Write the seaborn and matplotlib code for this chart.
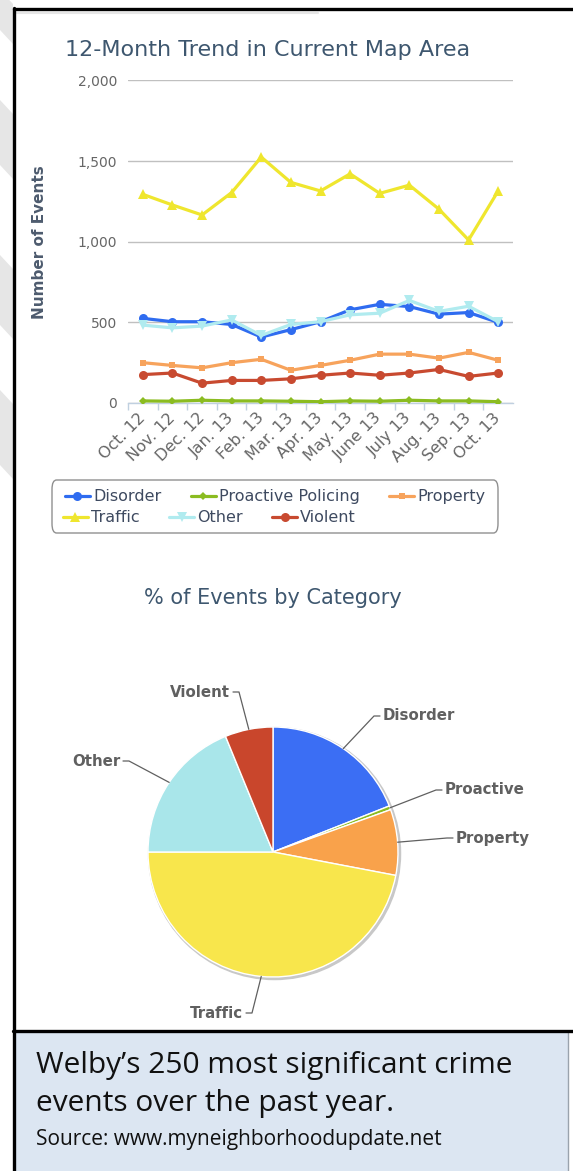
import numpy as np
import pandas as pd
import matplotlib
matplotlib.use("Agg")
import matplotlib.pyplot as plt
import seaborn as sns
from matplotlib.patches import FancyBboxPatch, Rectangle, Polygon, Circle
from matplotlib.lines import Line2D

# ---------------- data ----------------
months = ["Oct. 12", "Nov. 12", "Dec. 12", "Jan. 13", "Feb. 13", "Mar. 13", "Apr. 13",
          "May. 13", "June 13", "July 13", "Aug. 13", "Sep. 13", "Oct. 13"]
series_names = ["Disorder", "Proactive Policing", "Property", "Traffic", "Other", "Violent"]
disorder = [525, 504, 504, 487, 409, 455, 504, 578, 612, 598, 551, 561, 500]
proactive = [13, 11, 17, 13, 13, 11, 8, 13, 11, 17, 13, 13, 8]
property_ = [250, 233, 218, 250, 271, 203, 233, 265, 303, 303, 278, 314, 265]
traffic = [1294, 1228, 1166, 1305, 1525, 1368, 1315, 1421, 1300, 1351, 1202, 1011, 1315]
other = [483, 466, 477, 515, 419, 487, 504, 547, 557, 636, 568, 600, 504]
violent = [176, 186, 123, 140, 140, 150, 172, 186, 172, 186, 208, 165, 186]
y_ticks = [0, 500, 1000, 1500, 2000]
y_tick_labels = ["0", "500", "1,000", "1,500", "2,000"]

pie_labels = ["Disorder", "Proactive", "Property", "Traffic", "Other", "Violent"]
pie_share = [19.0, 0.5, 8.5, 47.0, 18.8, 6.2]

# ---------------- style ----------------
sns.set_style("white")
plt.rcParams["font.family"] = ["DejaVu Sans"]

line_colors = ["#2f6cf0", "#8bbc21", "#f7a35c", "#efe62e", "#b0ebef", "#c84a30"]
markers = ["o", "D", "s", "^", "v", "o"]
marker_sizes = [6.5, 4.5, 5, 6.5, 6.5, 6.5]
pie_colors = ["#3b6ef4", "#8bbc21", "#f9a24b", "#f8e64c", "#a9e6ea", "#c9462c"]

W, H = 573, 1171
fig = plt.figure(figsize=(W / 100, H / 100), dpi=100)
fig.patch.set_facecolor("white")

def fx(x):
    return x / W

def fy(y):
    return 1 - y / H

# --- background decorations (frame, caption box, faint watermark) ---
for (y0, y1) in [(-10, 30), (100, 165), (255, 325), (390, 465)]:
    fig.patches.append(Polygon([(fx(0), fy(y0)), (fx(13), fy(y0 + 14)), (fx(13), fy(y1 + 14)), (fx(0), fy(y1))],
                               closed=True, transform=fig.transFigure, facecolor="#e6e6e6",
                               edgecolor="none", zorder=0))
fig.add_artist(Line2D([fx(15), fx(318)], [fy(13), fy(13)], color="#e6e6e6", lw=1.5,
                      transform=fig.transFigure, zorder=1))
# caption box
fig.patches.append(Rectangle((fx(15), fy(1171)), fx(568) - fx(15), fy(1032) - fy(1171),
                             transform=fig.transFigure, facecolor="#dce6f2", edgecolor="none", zorder=0))
fig.add_artist(Line2D([fx(568), fx(568)], [fy(1032), fy(1171)], color="#9aa3ad", lw=1,
                      transform=fig.transFigure, zorder=2))
# black frame lines
fig.add_artist(Line2D([fx(13.5), fx(573)], [fy(8.5), fy(8.5)], color="black", lw=2.4,
                      transform=fig.transFigure, zorder=3))
fig.add_artist(Line2D([fx(14), fx(14)], [fy(8), fy(1171)], color="black", lw=2.4,
                      transform=fig.transFigure, zorder=3))
fig.add_artist(Line2D([fx(13), fx(573)], [fy(1031), fy(1031)], color="black", lw=2.4,
                      transform=fig.transFigure, zorder=3))

# ---------------- line chart ----------------
ax1 = fig.add_axes([fx(128), fy(403), (513 - 128) / W, (403 - 80.5) / H])
ax1.set_facecolor("none")
x = np.arange(len(months))
df = pd.DataFrame({"month": x, "Disorder": disorder, "Proactive Policing": proactive,
                   "Property": property_, "Traffic": traffic, "Other": other, "Violent": violent})
handles = {}
for name, col, mk, ms in zip(series_names, line_colors, markers, marker_sizes):
    sns.lineplot(data=df, x="month", y=name, ax=ax1, color=col, marker=mk, markersize=ms,
                 markeredgewidth=0, linewidth=2.3, legend=False, zorder=3)
    handles[name] = ax1.get_lines()[-1]

ax1.set_xlim(-0.5, len(months) - 0.5)
ax1.set_ylim(0, 2000)
ax1.set_yticks(y_ticks)
ax1.set_yticklabels(y_tick_labels)
ax1.set_xticks(x)
ax1.set_xticklabels(months, rotation=45, ha="right", va="center", rotation_mode="anchor")
ax1.set_xticks(np.arange(len(months)) - 0.5, minor=True)
ax1.tick_params(axis="x", which="major", length=0, pad=9, labelsize=11.5, labelcolor="#666666")
ax1.tick_params(axis="x", which="minor", length=5, width=1, color="#c0d0e0", direction="out", bottom=True)
ax1.tick_params(axis="y", length=0, pad=8, labelsize=10, labelcolor="#666666")
ax1.set_xlabel("")
ax1.set_ylabel("Number of Events", fontsize=11, fontweight="bold", color="#4d5b6e")
ax1.yaxis.set_label_coords(-0.21, 0.5)
for s in ["top", "right", "left"]:
    ax1.spines[s].set_visible(False)
ax1.spines["bottom"].set_color("#c0d0e0")
ax1.spines["bottom"].set_linewidth(1)
ax1.grid(axis="y", color="#c0c0c0", lw=1)
ax1.grid(axis="x", visible=False)
ax1.set_axisbelow(True)

fig.text(fx(65), fy(50), "12-Month Trend in Current Map Area", fontsize=16, color="#3e576f",
         ha="left", va="center")

# legend (two rows, Highcharts style)
fig.patches.append(FancyBboxPatch((fx(52), fy(533)), fx(498) - fx(52), fy(480) - fy(533),
                                  boxstyle="round,pad=0,rounding_size=0.008",
                                  transform=fig.transFigure, facecolor="white",
                                  edgecolor="#909090", lw=1, zorder=1))
row1 = ["Disorder", "Proactive Policing", "Property"]
row2 = ["Traffic", "Other", "Violent"]
for names, (lx, ly) in [(row1, (65, 497)), (row2, (63, 518))]:
    lg = fig.legend([handles[n] for n in names], names, loc="center left",
                    bbox_to_anchor=(fx(lx), fy(ly)), ncol=3, frameon=False, fontsize=11.5,
                    handlelength=1.55, handletextpad=0.2, columnspacing=1.85, borderpad=0,
                    borderaxespad=0, numpoints=1, labelcolor="#3e4a60")
    lg.set_zorder(5)

# ---------------- pie chart ----------------
cx, cy, R = 273, 852, 125
half = 135
ax2 = fig.add_axes([fx(cx - half), fy(cy + half), 2 * half / W, 2 * half / H])
ax2.axis("off")
ax2.add_patch(Circle((0.012, -0.012), 1.0, facecolor="none", edgecolor="#c8c8c8", lw=2.5, zorder=0))
wedges, _ = ax2.pie(pie_share, colors=pie_colors, startangle=90, counterclock=False, radius=1.0,
                    wedgeprops=dict(edgecolor="white", linewidth=1))
ax2.set_xlim(-half / R, half / R)
ax2.set_ylim(-half / R, half / R)

fig.text(fx(273), fy(598), "% of Events by Category", fontsize=15, color="#3e576f",
         ha="center", va="center")

# label anchor positions (pixels) for data labels
label_pos = {"Disorder": (383, 716, 1), "Proactive": (445, 790, 1), "Property": (456, 838, 1),
             "Traffic": (243, 1013, -1), "Other": (120, 761, -1), "Violent": (230, 692, -1)}

def to_data(px, py):
    return (px - cx) / R, (cy - py) / R

for w, name in zip(wedges, pie_labels):
    mid = np.deg2rad((w.theta1 + w.theta2) / 2)
    ex, ey = np.cos(mid), np.sin(mid)
    lx, ly, side = label_pos[name]
    kx, ky = to_data(lx - side * 9, ly)
    ox, oy = to_data(lx - side * 3, ly)
    ax2.plot([ex, kx, ox], [ey, ky, oy], color="#606060", lw=0.9, clip_on=False, zorder=4)
    tx, ty = to_data(lx, ly)
    ax2.text(tx, ty, name, fontsize=10.8, fontweight="bold", color="#606060",
             ha="left" if side > 0 else "right", va="center", zorder=5, clip_on=False)

# ---------------- caption ----------------
fig.text(fx(36), fy(1066), "Welby\u2019s 250 most significant crime", fontsize=21.5,
         family=["Open Sans", "DejaVu Sans"], color="#111111", ha="left", va="center")
fig.text(fx(36), fy(1104), "events over the past year.", fontsize=21.5,
         family=["Open Sans", "DejaVu Sans"], color="#111111", ha="left", va="center")
fig.text(fx(36), fy(1140), "Source: www.myneighborhoodupdate.net", fontsize=15,
         family=["Open Sans", "DejaVu Sans"], color="#111111", ha="left", va="center")

fig.savefig("out.png", dpi=100, facecolor="white")
